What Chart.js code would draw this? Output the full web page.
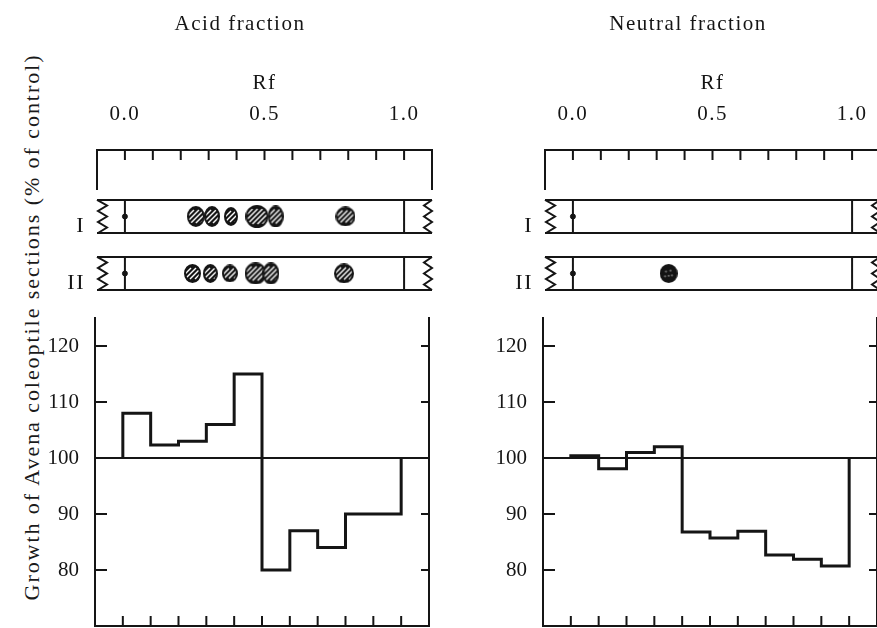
<!DOCTYPE html>
<html>
<head>
<meta charset="utf-8">
<script src="https://cdn.jsdelivr.net/npm/chart.js@4.4.1/dist/chart.umd.min.js"></script>
<style>
  html, body { margin: 0; padding: 0; background: #fff; overflow: hidden; width: 877px; height: 628px; }
  body { position: relative; }
  canvas { position: absolute; }
  #ylabel { position: absolute; font: 22px 'Liberation Serif', serif; color: #1a1a1a; white-space: nowrap; line-height: 24px; }
</style>
</head>
<body>
<div id="ylabel">Growth of Avena coleoptile sections (% of control)</div>
<canvas id="acidStrips" width="480" height="300" style="left:0;top:0"></canvas>
<canvas id="acidGrowth" width="440" height="328" style="left:0;top:300px"></canvas>
<canvas id="neutralStrips" width="480" height="300" style="left:448px;top:0"></canvas>
<canvas id="neutralGrowth" width="440" height="328" style="left:448px;top:300px"></canvas>
<script>
// Rf axis
const rfRange = [-0.1, 1.1];
const rfLabels = [0.0, 0.5, 1.0];
const rfSteps = [0.0, 0.1, 0.2, 0.3, 0.4, 0.5, 0.6, 0.7, 0.8, 0.9, 1.0];
const stripNames = ['I', 'II'];

// spots on the chromatograms (Rf)
const acidSpotsI = [0.254, 0.312, 0.38, 0.473, 0.54, 0.79];
const acidSpotsII = [0.242, 0.306, 0.376, 0.468, 0.523, 0.785];
const neutralSpotsI = [];
const neutralSpotsII = [0.343];

// growth per Rf zone (% of control)
const growthRange = [70, 125];
const growthTicks = [80, 90, 100, 110, 120];
const controlLevel = 100;
const acidGrowth = [108, 102.3, 103, 106, 115, 80, 87, 84, 90, 90];
const neutralGrowth = [100.4, 98.1, 101, 102, 86.8, 85.7, 86.9, 82.7, 81.9, 80.7];

// spot shapes (px), style only
const acidDimsI = [[16, 19], [14, 19], [12, 17], [21, 21], [14, 20], [18, 18]];
const acidDimsII = [[15, 17], [13, 17], [14, 16], [20, 20], [15, 20], [18, 18]];
const neutralDimsII = [[16, 17]];

const ink = '#151515';
Chart.defaults.font.family = "'Liberation Serif', 'Times New Roman', serif";
Chart.defaults.color = ink;

function makeSpot(w, h, mottled) {
    const c = document.createElement('canvas');
    c.width = w + 2; c.height = h + 2;
    const g = c.getContext('2d');
    const ell = () => { g.beginPath(); g.ellipse(c.width / 2, c.height / 2, w / 2, h / 2, 0, 0, Math.PI * 2); };
    ell();
    g.fillStyle = '#141414';
    g.fill();
    g.save();
    g.clip();
    if (mottled) {
        g.fillStyle = '#6a6a6a';
        [[0.35, 0.4], [0.6, 0.35], [0.5, 0.62], [0.3, 0.65], [0.68, 0.6]].forEach(p => {
            g.beginPath(); g.arc(p[0] * c.width, p[1] * c.height, 1.1, 0, Math.PI * 2); g.fill();
        });
    } else {
        g.strokeStyle = '#fafafa';
        g.lineWidth = 1.5;
        for (let k = -c.height; k < c.width + c.height; k += 5) {
            g.beginPath(); g.moveTo(k, c.height - 4); g.lineTo(k + c.height - 8, 4); g.stroke();
        }
    }
    g.restore();
    ell();
    g.lineWidth = 2;
    g.strokeStyle = ink;
    g.stroke();
    return c;
}

function stepPoints(values) {
    const pts = [{ x: rfSteps[0], y: controlLevel }];
    values.forEach((v, i) => pts.push({ x: rfSteps[i], y: v }));
    pts.push({ x: rfSteps[rfSteps.length - 1], y: controlLevel });
    return pts;
}

// keep the scale boxes exactly where we put them
const noOverhang = s => { s.paddingTop = 0; s.paddingBottom = 0; s.paddingLeft = 0; s.paddingRight = 0; };

// ruler and paper strips
const stripFrame = {
    id: 'stripFrame',
    beforeDraw(chart) { chart.ctx.letterSpacing = '1.5px'; },
    beforeDatasetsDraw(chart) {
        const { ctx, chartArea: a, scales: { x, y } } = chart;
        ctx.save();
        ctx.strokeStyle = ink;
        ctx.lineWidth = 2;
        ctx.beginPath();
        const rulerBottom = y.getPixelForValue(0.535);
        ctx.moveTo(a.left, rulerBottom);
        ctx.lineTo(a.left, a.top);
        ctx.lineTo(a.right, a.top);
        ctx.lineTo(a.right, rulerBottom);
        rfSteps.forEach(v => {
            const px = x.getPixelForValue(v);
            ctx.moveTo(px, a.top);
            ctx.lineTo(px, a.top + 10);
        });
        stripNames.forEach((_, i) => {
            const top = y.getPixelForValue(i + 1 - 0.29);
            const bot = y.getPixelForValue(i + 1 + 0.29);
            ctx.moveTo(a.left, top); ctx.lineTo(a.right, top);
            ctx.moveTo(a.left, bot); ctx.lineTo(a.right, bot);
            [rfSteps[0], rfSteps[rfSteps.length - 1]].forEach(v => {
                const px = x.getPixelForValue(v);
                ctx.moveTo(px, top); ctx.lineTo(px, bot);
            });
            // torn ends
            const n = 6, hgt = (bot - top) / n;
            ctx.moveTo(a.left, top);
            for (let k = 1; k <= n; k++) ctx.lineTo(a.left + (k % 2 ? 10 : 1), top + k * hgt);
            ctx.moveTo(a.right, top);
            for (let k = 1; k <= n; k++) ctx.lineTo(a.right - (k % 2 ? 8 : 0), top + k * hgt);
        });
        ctx.stroke();
        ctx.restore();
    }
};

// frame ticks pointing inwards
const growthFrame = {
    id: 'growthFrame',
    afterDatasetsDraw(chart) {
        const { ctx, chartArea: a, scales: { x, y } } = chart;
        ctx.save();
        ctx.strokeStyle = ink;
        ctx.lineWidth = 2;
        ctx.beginPath();
        y.ticks.forEach(t => {
            const py = y.getPixelForValue(t.value);
            ctx.moveTo(a.left, py); ctx.lineTo(a.left + 12, py);
            ctx.moveTo(a.right - 8, py); ctx.lineTo(a.right, py);
        });
        x.ticks.forEach(t => {
            const px = x.getPixelForValue(t.value);
            ctx.moveTo(px, a.bottom); ctx.lineTo(px, a.bottom - 10);
        });
        ctx.stroke();
        ctx.restore();
    }
};

const titleFont = 21, titlePadTop = 11.5;

function stripChart(id, title, spotsI, spotsII, dimsI, dimsII, mottledII) {
    const spotSet = (spots, dims, row, mottled) => ({
        data: spots.map(rf => ({ x: rf, y: row })),
        pointStyle: dims.map(d => makeSpot(d[0], d[1], mottled)),
        pointRadius: 8
    });
    return new Chart(document.getElementById(id), {
        type: 'scatter',
        data: {
            datasets: [
                spotSet(spotsI, dimsI, 1, false),
                spotSet(spotsII, dimsII, 2, mottledII),
                {
                    data: stripNames.map((_, i) => ({ x: rfSteps[0], y: i + 1 })),
                    pointStyle: 'circle', pointRadius: 2.5,
                    backgroundColor: ink, borderColor: ink
                }
            ]
        },
        options: {
            responsive: false,
            animation: false,
            events: [],
            layout: { padding: { left: 0, right: 0, top: 0, bottom: 10 } },
            plugins: {
                legend: { display: false },
                tooltip: { enabled: false },
                title: {
                    display: true, text: title, color: ink,
                    font: { size: titleFont, weight: 'normal' },
                    padding: { top: titlePadTop, bottom: 0 }
                }
            },
            scales: {
                x: {
                    type: 'linear', position: 'top', min: rfRange[0], max: rfRange[1],
                    grid: { display: false, drawTicks: false }, border: { display: false },
                    afterBuildTicks: s => { s.ticks = rfLabels.map(v => ({ value: v })); },
                    afterFit: s => { s.height = 150 - (titlePadTop + titleFont * 1.2); noOverhang(s); },
                    ticks: { padding: 23, font: { size: 21 }, color: ink, callback: v => v.toFixed(1) },
                    title: { display: true, text: 'Rf', color: ink, font: { size: 21 }, padding: { top: 34, bottom: 0 } }
                },
                y: {
                    type: 'linear', min: -0.167, max: 2.29, reverse: true,
                    grid: { display: false, drawTicks: false }, border: { display: false },
                    afterBuildTicks: s => { s.ticks = stripNames.map((_, i) => ({ value: i + 1 })); },
                    afterFit: s => { s.width = 97; noOverhang(s); },
                    ticks: { padding: 12, font: { size: 22 }, color: ink, labelOffset: 10, callback: (v, i) => stripNames[i] }
                },
                // empty strip on the right so the title centres over the whole panel
                pad: {
                    type: 'linear', position: 'right', min: 0, max: 1,
                    grid: { display: false, drawTicks: false }, border: { display: false }, ticks: { display: false },
                    afterFit: s => { s.width = 48; noOverhang(s); }
                }
            }
        },
        plugins: [stripFrame]
    });
}

function growthChart(id, values) {
    return new Chart(document.getElementById(id), {
        type: 'line',
        data: {
            datasets: [
                { data: stepPoints(values), stepped: 'before', borderColor: ink, borderWidth: 3, pointRadius: 0, fill: false },
                {
                    data: [{ x: rfRange[0], y: controlLevel }, { x: rfRange[1], y: controlLevel }],
                    borderColor: ink, borderWidth: 2, pointRadius: 0, fill: false
                }
            ]
        },
        options: {
            responsive: false,
            animation: false,
            events: [],
            layout: { padding: { top: 18, left: 0, right: 0, bottom: 0 } },
            plugins: { legend: { display: false }, tooltip: { enabled: false } },
            scales: {
                x: {
                    type: 'linear', min: rfRange[0], max: rfRange[1],
                    grid: { display: false, drawTicks: false }, ticks: { display: false },
                    border: { display: true, color: ink, width: 2 },
                    afterBuildTicks: s => { s.ticks = rfSteps.map(v => ({ value: v })); },
                    afterFit: s => { s.height = 2; noOverhang(s); }
                },
                y: {
                    type: 'linear', position: 'left', min: growthRange[0], max: growthRange[1],
                    grid: { display: false, drawTicks: false },
                    border: { display: true, color: ink, width: 2 },
                    afterBuildTicks: s => { s.ticks = growthTicks.map(v => ({ value: v })); },
                    afterFit: s => { s.width = 95; noOverhang(s); },
                    ticks: { padding: 16, font: { size: 21 }, color: ink }
                },
                y2: {
                    type: 'linear', position: 'right', min: growthRange[0], max: growthRange[1],
                    grid: { display: false, drawTicks: false }, ticks: { display: false },
                    border: { display: true, color: ink, width: 2 },
                    afterBuildTicks: s => { s.ticks = growthTicks.map(v => ({ value: v })); },
                    afterFit: s => { s.width = 11; noOverhang(s); }
                }
            }
        },
        plugins: [growthFrame]
    });
}

stripChart('acidStrips', 'Acid fraction', acidSpotsI, acidSpotsII, acidDimsI, acidDimsII, false);
stripChart('neutralStrips', 'Neutral fraction', neutralSpotsI, neutralSpotsII, [], neutralDimsII, true);
growthChart('acidGrowth', acidGrowth);
growthChart('neutralGrowth', neutralGrowth);

// rotated y label, stretched to the length it has in the figure
const lab = document.getElementById('ylabel');
const natural = lab.offsetWidth;
lab.style.letterSpacing = ((547 - natural) / lab.textContent.length) + 'px';
const w = lab.offsetWidth, h = lab.offsetHeight;
lab.style.left = (32 - w / 2) + 'px';
lab.style.top = (327 - h / 2) + 'px';
lab.style.transform = 'rotate(-90deg)';
</script>
</body>
</html>
